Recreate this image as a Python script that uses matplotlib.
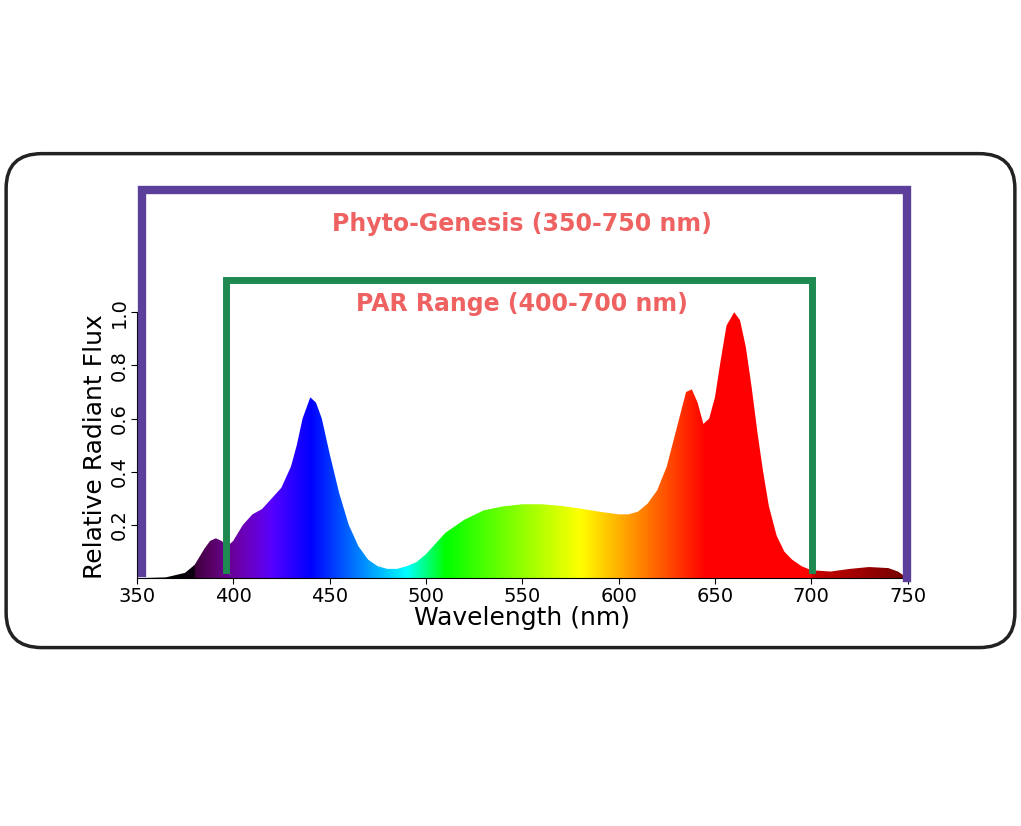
import numpy as np
import matplotlib.pyplot as plt
from matplotlib.patches import FancyBboxPatch

wavelength = [350, 365, 375, 380, 385, 388, 391, 394, 397, 400, 405, 410, 415, 420, 425, 430, 433,
              436, 440, 443, 446, 450, 455, 460, 465, 470, 475, 480, 485, 490, 495, 500, 505, 510,
              520, 530, 540, 550, 560, 570, 580, 590, 600, 605, 610, 615, 620, 625, 630, 635, 638,
              641, 644, 647, 650, 653, 656, 660, 663, 666, 669, 672, 675, 678, 682, 686, 690, 695,
              700, 710, 720, 730, 740, 745, 750]
flux = [0.0, 0.003, 0.02, 0.05, 0.11, 0.14, 0.15, 0.14, 0.12, 0.14, 0.2, 0.24, 0.26, 0.3, 0.34, 0.42, 0.5,
        0.6, 0.68, 0.66, 0.6, 0.47, 0.32, 0.2, 0.12, 0.07, 0.045, 0.035, 0.035, 0.045, 0.06, 0.09, 0.13, 0.17,
        0.22, 0.255, 0.27, 0.278, 0.278, 0.272, 0.262, 0.25, 0.24, 0.24, 0.25, 0.28, 0.33, 0.42, 0.56, 0.7, 0.71,
        0.66, 0.58, 0.6, 0.68, 0.82, 0.95, 1.0, 0.97, 0.87, 0.72, 0.55, 0.4, 0.27, 0.16, 0.1, 0.07, 0.045,
        0.03, 0.025, 0.035, 0.042, 0.038, 0.025, 0.0]


def wl_rgb(w):
    if w < 380:
        r, g, b = 0.25, 0.0, 0.3
    elif w < 440:
        r, g, b = -(w - 440) / 60, 0.0, 1.0
    elif w < 490:
        r, g, b = 0.0, (w - 440) / 50, 1.0
    elif w < 510:
        r, g, b = 0.0, 1.0, -(w - 510) / 20
    elif w < 580:
        r, g, b = (w - 510) / 70, 1.0, 0.0
    elif w < 645:
        r, g, b = 1.0, -(w - 645) / 65, 0.0
    else:
        r, g, b = 1.0, 0.0, 0.0
    if w < 420:
        f = 0.05 + 0.95 * max(w - 370, 0) / 50
    elif w > 700:
        f = 0.45 + 0.35 * (750 - w) / 50
    else:
        f = 1.0
    return [min(1, r * f), g * f, b * f]


fig = plt.figure(figsize=(10.21, 8.26), dpi=100)
fig.patches.append(FancyBboxPatch((0.006, 0.216), 0.988, 0.598, boxstyle="round,pad=0,rounding_size=0.035",
                                  transform=fig.transFigure, fill=False, lw=2.5, ec="#222222",
                                  mutation_aspect=1.2))
ax = fig.add_axes([0.134, 0.30, 0.755, 0.483])

xs = np.linspace(350, 750, 800)
grad = np.array([wl_rgb(w) for w in xs])[None, :, :]
im = ax.imshow(grad, extent=[350, 750, 0, 1.5], aspect="auto", zorder=1)
poly = ax.fill_between(wavelength, flux, 0, color="none")
im.set_clip_path(poly.get_paths()[0], transform=ax.transData)

# bracket outlines (open at the bottom)
ax.plot([352.5, 352.5, 749.5, 749.5], [0.02, 1.46, 1.46, 0.0], color="#5b3f9a", lw=6,
        solid_joinstyle="miter", zorder=3, clip_on=False)
ax.plot([396.5, 396.5, 700.5, 700.5], [0.03, 1.12, 1.12, 0.03], color="#1e8a52", lw=5,
        solid_joinstyle="miter", zorder=3, clip_on=False)
ax.text(550, 1.33, "Phyto-Genesis (350-750 nm)", ha="center", va="center", color="#ef6262",
        fontsize=17, fontweight="bold")
ax.text(550, 1.03, "PAR Range (400-700 nm)", ha="center", va="center", color="#ef6262",
        fontsize=17, fontweight="bold")

ax.set_xlim(350, 750)
ax.set_ylim(0, 1.5)
ax.set_xticks(range(350, 751, 50))
ax.set_yticks([0.2, 0.4, 0.6, 0.8, 1.0])
ax.set_yticklabels(["0.2", "0.4", "0.6", "0.8", "1.0"], rotation=90, va="center")
ax.tick_params(labelsize=14, length=4, pad=2)
for s in ["top", "right"]:
    ax.spines[s].set_visible(False)
ax.spines["left"].set_bounds(0, 1.0)
ax.set_xlabel("Wavelength (nm)", fontsize=18, labelpad=0)
ax.set_ylabel("Relative Radiant Flux", fontsize=18, labelpad=2, y=0.33)

fig.savefig("out.png", dpi=100)
